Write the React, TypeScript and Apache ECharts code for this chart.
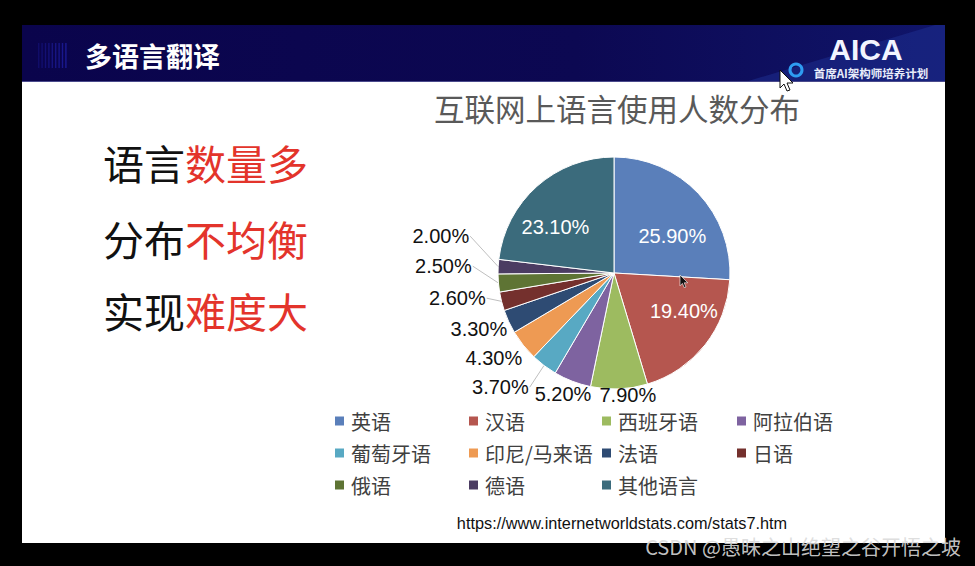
import React, { useEffect, useRef } from 'react';
import * as echarts from 'echarts';

const languages = ['英语', '汉语', '西班牙语', '阿拉伯语', '葡萄牙语', '印尼/马来语', '法语', '日语', '俄语', '德语', '其他语言'];
const shares = [25.9, 19.4, 7.9, 5.2, 3.7, 4.3, 3.3, 2.6, 2.5, 2.0, 23.1];
const sliceColors = ['#5A7FBA', '#B5564F', '#9DBB60', '#7E63A0', '#58A9C3', '#EE9A53', '#2E4B73', '#74302D', '#5E7434', '#4B3C62', '#3B6B7C'];
const insideLabelNames = ['英语', '汉语', '其他语言'];
const noLeaderNames = ['西班牙语', '阿拉伯语', '印尼/马来语', '法语'];
const legendColumns = [[0, 4, 8], [1, 5, 9], [2, 6, 10], [3, 7]];
const legendColumnLeft = [333, 467, 600, 735];
// label nudges (layout only), per slice, relative to ECharts' own label placement
const labelNudge = [[14, 5], [22, 0], [-31, -2], [33, -4], [2, 11], [14, 4], [11, -3], [-3, -12], [-13, -22], [-15, -30], [-18, 0]];

const chartTitle = '互联网上语言使用人数分布';
const slideTitle = '多语言翻译';
const sourceUrl = 'https://www.internetworldstats.com/stats7.htm';
const sidePoints = [
  ['语言', '数量多'],
  ['分布', '不均衡'],
  ['实现', '难度大'],
];

const FONT = '"Liberation Sans", Arial, "Noto Sans CJK SC", sans-serif';
const CJK = '"Noto Sans CJK SC", "Liberation Sans", sans-serif';

function txt(x: number, y: number, text: string, fill: string, fontSize: number, extra: any = {}) {
  const align = extra.align || 'left';
  const v = extra.verticalAlign || 'middle';
  return {
    type: 'text',
    x,
    y,
    z: extra.z || 10,
    style: {
      text,
      fill,
      fontSize,
      fontFamily: extra.fontFamily || CJK,
      fontWeight: extra.fontWeight || 'normal',
      align,
      textAlign: align,
      verticalAlign: v,
      textVerticalAlign: v,
      opacity: extra.opacity == null ? 1 : extra.opacity,
    },
  };
}

export default function App() {
  const ref = useRef<HTMLDivElement>(null);

  useEffect(() => {
    if (!ref.current) return;
    const chart = echarts.init(ref.current, undefined, { renderer: 'svg' });

    const data = languages.map((name, i) => {
      const inside = insideLabelNames.includes(name);
      return {
        name,
        value: shares[i],
        itemStyle: { color: sliceColors[i] },
        label: inside
          ? { position: 'inside', color: '#ffffff' }
          : { position: 'outside', color: '#111111' },
        labelLine: { show: !inside && !noLeaderNames.includes(name) },
      };
    });

    const graphics: any[] = [];
    graphics.push({ type: 'rect', z: 0, shape: { x: 22, y: 25, width: 923, height: 518 }, style: { fill: '#ffffff' } });
    graphics.push({
      type: 'rect', z: 1, shape: { x: 22, y: 25, width: 923, height: 57 },
      style: {
        fill: new echarts.graphic.LinearGradient(0, 0, 1, 0, [
          { offset: 0, color: '#0A044C' },
          { offset: 0.6, color: '#0C0852' },
          { offset: 1, color: '#10156A' },
        ]),
      },
    });
    graphics.push({
      type: 'polygon', z: 2,
      shape: { points: [[745, 82], [945, 82], [945, 25], [935, 25]] },
      style: { fill: '#1E2E8E', opacity: 0.55 },
    });
    graphics.push({ type: 'line', z: 3, shape: { x1: 22, y1: 81.5, x2: 945, y2: 81.5 }, style: { stroke: '#4A4A8C', lineWidth: 1 } });
    for (let i = 0; i < 9; i++) {
      graphics.push({ type: 'rect', z: 3, shape: { x: 38 + i * 3.4, y: 43, width: 1.4, height: 25 }, style: { fill: '#1E1EA0', opacity: 0.35 + i * 0.06 } });
    }
    graphics.push(txt(85, 55, slideTitle, '#ffffff', 27, { fontWeight: 'bold', z: 5 }));
    graphics.push(txt(866, 49, 'AICA', '#F2F5FF', 30, { align: 'center', fontFamily: FONT, fontWeight: 'bold', z: 5 }));
    graphics.push({ type: 'circle', z: 5, shape: { cx: 796, cy: 70, r: 6 }, style: { fill: 'none', stroke: '#2E9CF2', lineWidth: 3 } });
    graphics.push(txt(871, 72.5, '首席AI架构师培养计划', '#E8ECFA', 11.5, { align: 'center', fontWeight: 'bold', z: 5 }));
    graphics.push({
      type: 'polygon', z: 6, x: 780, y: 70,
      shape: { points: [[0, 0], [0, 18], [4, 14], [7, 21], [10, 20], [7, 13], [13, 13]] },
      style: { fill: '#ffffff', stroke: '#111111', lineWidth: 1 },
    });
    graphics.push({
      type: 'polygon', z: 20, x: 680, y: 275, scaleX: 0.6, scaleY: 0.6,
      shape: { points: [[0, 0], [0, 18], [4, 14], [7, 21], [10, 20], [7, 13], [13, 13]] },
      style: { fill: '#111111', stroke: '#ffffff', lineWidth: 1 },
    });
    const sideY = [162, 238, 310];
    sidePoints.forEach((p, i) => {
      graphics.push(txt(103, sideY[i], p[0], '#111111', 41));
      graphics.push(txt(185, sideY[i], p[1], '#E3342B', 41));
    });
    graphics.push(txt(622, 523, sourceUrl, '#111111', 16.3, { align: 'center', fontFamily: FONT }));
    graphics.push(txt(803, 546, 'CSDN @愚昧之山绝望之谷开悟之坡', '#DADADA', 20, { align: 'center', z: 30, opacity: 0.9 }));

    const legends = legendColumns.map((col, ci) => ({
      orient: 'vertical',
      left: legendColumnLeft[ci],
      top: 411,
      padding: 0,
      itemGap: 12,
      itemWidth: 11,
      itemHeight: 11,
      icon: 'rect',
      selectedMode: false,
      data: col.map((i) => languages[i]),
      textStyle: { fontSize: 20, color: '#404040', fontFamily: CJK, lineHeight: 20, padding: [0, 0, 0, 1] },
    }));

    chart.setOption({
      animation: false,
      backgroundColor: '#000000',
      title: {
        text: chartTitle,
        left: 612,
        top: 88,
        textAlign: 'center',
        textStyle: { fontSize: 30.5, fontWeight: 'normal', color: '#595959', fontFamily: CJK },
      },
      legend: legends,
      graphic: { elements: graphics },
      series: [
        {
          type: 'pie',
          center: [614, 273],
          radius: 116,
          startAngle: 90,
          clockwise: true,
          avoidLabelOverlap: true,
          minShowLabelAngle: 0,
          z: 5,
          itemStyle: { borderColor: '#ffffff', borderWidth: 1 },
          label: {
            fontSize: 20,
            fontFamily: FONT,
            formatter: (p: any) => p.value.toFixed(2) + '%',
          },
          labelLine: { length: 8, length2: 6, lineStyle: { color: '#bfbfbf', width: 1 } },
          labelLayout: (p: any) => {
            const [dx, dy] = labelNudge[p.dataIndex];
            const out: any = { dx, dy };
            const pts = p.labelLinePoints;
            const r = p.labelRect;
            if (pts && pts.length && r) {
              const endX = r.x + r.width + dx + 1;
              const endY = r.y + r.height / 2 + dy;
              out.labelLinePoints = [pts[0], [endX, endY]];
            }
            return out;
          },
          emphasis: { disabled: true },
          data,
        },
      ],
    });
    return () => chart.dispose();
  }, []);

  return <div ref={ref} style={{ position: 'fixed', left: 0, top: 0, width: 975, height: 566 }} />;
}
